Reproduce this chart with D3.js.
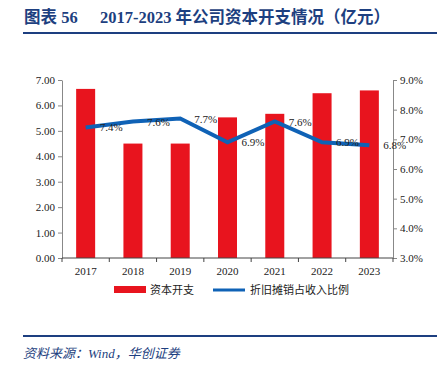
<!DOCTYPE html>
<html>
<head>
<meta charset="utf-8">
<script src="https://cdn.jsdelivr.net/npm/d3@7"></script>
<style>
  body { margin: 0; background: #fff; }
  svg text { font-family: "Liberation Serif", "Noto Sans CJK SC", serif; white-space: pre; }
</style>
</head>
<body>
<svg id="chart" width="444" height="368"></svg>
<script>
// data
var years = ["2017", "2018", "2019", "2020", "2021", "2022", "2023"];
var capex = [6.65, 4.50, 4.50, 5.53, 5.67, 6.48, 6.59];
var depRatio = [7.4, 7.6, 7.7, 6.9, 7.6, 6.9, 6.8];
var leftTicks = [0, 1, 2, 3, 4, 5, 6, 7];
var rightTicks = [3, 4, 5, 6, 7, 8, 9];

var svg = d3.select("#chart");
var pLeft = 62, pRight = 393, pTop = 80, pBottom = 258;
var blue = "#1d3f80", red = "#e8141e", lineCol = "#0f62b6";

// title
svg.append("text")
  .attr("x", 24).attr("y", 23)
  .attr("fill", blue)
  .attr("font-size", "16.5px")
  .attr("font-weight", "bold")
  .text("图表 56");
svg.append("text")
  .attr("x", 100).attr("y", 23)
  .attr("fill", blue)
  .attr("font-size", "16.5px")
  .attr("font-weight", "bold")
  .text("2017-2023 年公司资本开支情况（亿元）");
svg.append("line")
  .attr("x1", 23).attr("x2", 437).attr("y1", 33).attr("y2", 33)
  .attr("stroke", blue).attr("stroke-width", 2);

var x = d3.scaleBand().domain(years).range([pLeft, pRight]);
var yL = d3.scaleLinear().domain([0, 7]).range([pBottom, pTop]);
var yR = d3.scaleLinear().domain([3, 9]).range([pBottom, pTop]);

// left axis
var gL = svg.append("g").attr("transform", "translate(" + pLeft + ",0)")
  .call(d3.axisLeft(yL).tickValues(leftTicks).tickSize(4).tickSizeOuter(0)
    .tickFormat(d3.format(".2f")));
// right axis
var gR = svg.append("g").attr("transform", "translate(" + pRight + ",0)")
  .call(d3.axisRight(yR).tickValues(rightTicks).tickSize(4).tickSizeOuter(0)
    .tickFormat(function(d) { return d.toFixed(1) + "%"; }));
[gL, gR].forEach(function(g) {
  g.select(".domain").attr("stroke", "#888");
  g.selectAll(".tick line").attr("stroke", "#888");
  g.selectAll(".tick text").attr("font-size", "11px").attr("fill", "#222")
    .attr("font-family", "Liberation Serif");
});

// bars
svg.append("g").selectAll("rect").data(capex)
  .enter().append("rect")
  .attr("x", function(d, i) { return x(years[i]) + x.bandwidth() / 2 - 9.5; })
  .attr("width", 19)
  .attr("y", function(d) { return yL(d); })
  .attr("height", function(d) { return yL(0) - yL(d); })
  .attr("fill", red);

// x axis
var gX = svg.append("g").attr("transform", "translate(0," + pBottom + ")");
gX.append("line").attr("x1", pLeft).attr("x2", pRight).attr("stroke", "#444");
gX.selectAll("line.t").data(d3.range(years.length + 1))
  .enter().append("line").attr("class", "t")
  .attr("x1", function(i) { return pLeft + i * x.step(); })
  .attr("x2", function(i) { return pLeft + i * x.step(); })
  .attr("y1", 0).attr("y2", 4).attr("stroke", "#444");
gX.selectAll("text").data(years)
  .enter().append("text")
  .attr("x", function(d) { return x(d) + x.bandwidth() / 2; })
  .attr("y", 17)
  .attr("text-anchor", "middle")
  .attr("font-size", "11px")
  .attr("fill", "#222")
  .text(function(d) { return d; });

// line
var line = d3.line()
  .x(function(d, i) { return x(years[i]) + x.bandwidth() / 2; })
  .y(function(d) { return yR(d); });
svg.append("path").datum(depRatio)
  .attr("d", line)
  .attr("fill", "none")
  .attr("stroke", lineCol)
  .attr("stroke-width", 4);

svg.append("g").selectAll("text").data(depRatio)
  .enter().append("text")
  .attr("x", function(d, i) { return x(years[i]) + x.bandwidth() / 2 + 14; })
  .attr("y", function(d) { return yR(d) + 4; })
  .attr("font-size", "11px")
  .attr("fill", "#222")
  .text(function(d) { return d.toFixed(1) + "%"; });

// legend
var lg = svg.append("g").attr("transform", "translate(0,290)");
lg.append("rect").attr("x", 114).attr("y", -4).attr("width", 32).attr("height", 7).attr("fill", red);
lg.append("text").attr("x", 150).attr("y", 3.5).attr("font-size", "11px").attr("fill", "#222")
  .attr("font-family", "Noto Sans CJK SC").text("资本开支");
lg.append("line").attr("x1", 213).attr("x2", 245).attr("stroke", lineCol).attr("stroke-width", 3);
lg.append("text").attr("x", 250).attr("y", 3.5).attr("font-size", "11px").attr("fill", "#222")
  .attr("font-family", "Noto Sans CJK SC").text("折旧摊销占收入比例");

// footer
svg.append("line")
  .attr("x1", 23).attr("x2", 437).attr("y1", 336).attr("y2", 336)
  .attr("stroke", blue).attr("stroke-width", 2);
svg.append("text")
  .attr("x", 23).attr("y", 358)
  .attr("fill", blue)
  .attr("font-size", "13px")
  .attr("font-style", "italic")
  .text("资料来源：Wind，华创证券");
</script>
</body>
</html>
